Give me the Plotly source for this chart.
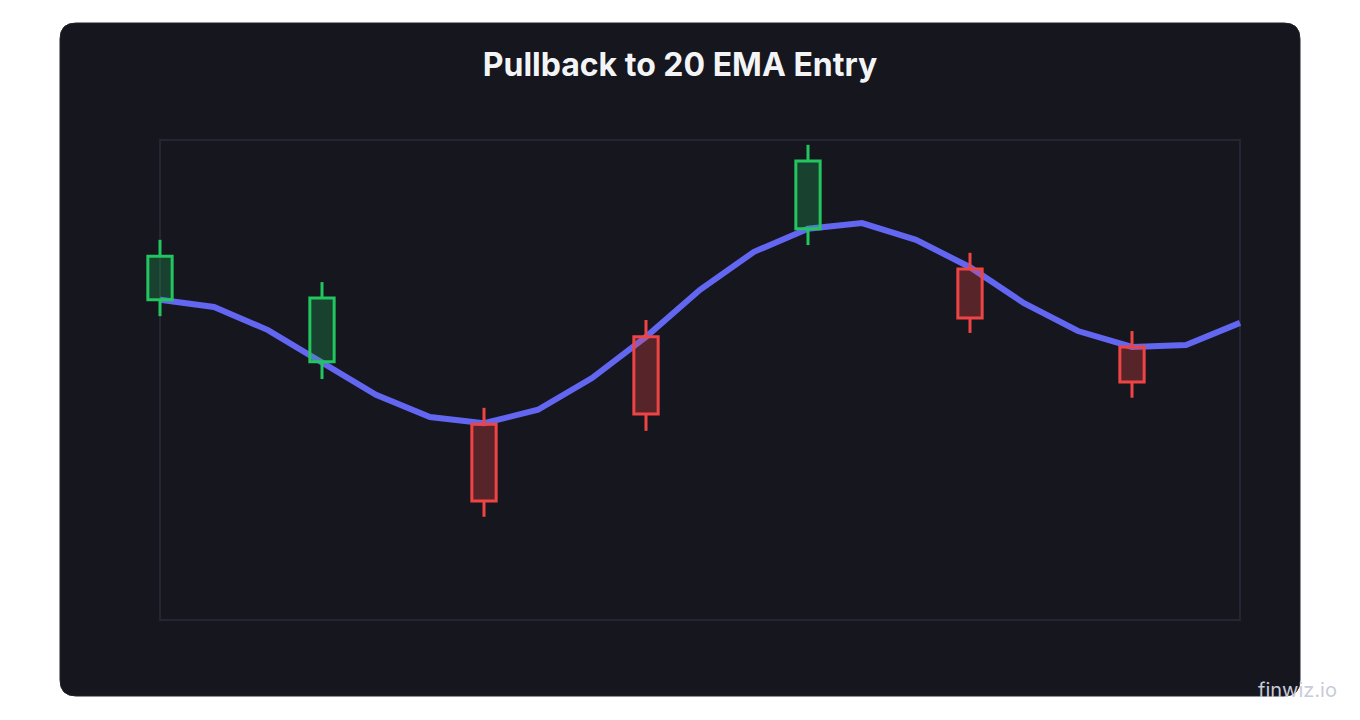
import plotly.graph_objects as go

# EMA(20) values, one per bar
bar_idx = list(range(21))
ema_vals = [66.7, 65.2, 60.4, 53.8, 46.9, 42.3, 41.0, 43.8, 50.4, 59.0, 68.8,
            76.7, 81.5, 82.7, 79.2, 73.5, 66.0, 60.2, 56.9, 57.3, 61.9]

# candles shown every third bar
candle_idx = [0, 3, 6, 9, 12, 15, 18]
opens = [66.7, 53.8, 40.8, 59.0, 81.5, 73.1, 56.9]
highs = [79.2, 70.4, 44.2, 62.5, 99.0, 76.5, 60.2]
lows = [63.3, 50.2, 21.5, 39.4, 78.1, 59.8, 46.3]
closes = [75.8, 67.1, 24.8, 42.9, 95.6, 62.9, 49.6]

GREEN = "#22c55e"
RED = "#ef4444"
CARD = "#16161f"
FRAME = "#252533"

fig = go.Figure()

# ema line on the base axes
fig.add_trace(go.Scatter(x=bar_idx, y=ema_vals, mode="lines",
                         line=dict(color="#6366f1", width=6),
                         hoverinfo="skip", showlegend=False))

# candles on an overlaid axis pair so they sit above the line
for up in [True, False]:
    xs, base, height, wx, wy = [], [], [], [], []
    for i, o, h, l, c in zip(candle_idx, opens, highs, lows, closes):
        if (c >= o) != up:
            continue
        top, bot = max(o, c), min(o, c)
        xs.append(i)
        base.append(bot)
        height.append(top - bot)
        wx += [i, i, None, i, i, None]
        wy += [h, top, None, bot, l, None]
    col = GREEN if up else RED
    fill = "rgba(34,197,94,0.25)" if up else "rgba(239,68,68,0.3)"
    fig.add_trace(go.Scatter(x=wx, y=wy, mode="lines", line=dict(color=col, width=3),
                             xaxis="x2", yaxis="y2", hoverinfo="skip", showlegend=False))
    fig.add_trace(go.Bar(x=xs, y=height, base=base, width=0.45,
                         marker=dict(color=fill, line=dict(color=col, width=3)),
                         xaxis="x2", yaxis="y2", showlegend=False))

# page body has an 8px margin, so the figure is 1352x712 placed at (8, 8)
OFF = 8
# x range padded by half a bar so the first candle isn't clipped; frame drawn at 0..20
XR = [-0.5, 20.5]
PL, PR, PT, PB = 133, 1267, 140, 620
W, H = float(PR - PL), float(PB - PT)
def px(x):
    return (x - PL) / W
def py(y):
    return (PB - y) / H

# rounded card behind the chart
x0, x1, y0, y1, r = 60, 1300, 23, 696, 16
path = (f"M {px(x0 + r)} {py(y0)} L {px(x1 - r)} {py(y0)} "
        f"Q {px(x1)} {py(y0)} {px(x1)} {py(y0 + r)} L {px(x1)} {py(y1 - r)} "
        f"Q {px(x1)} {py(y1)} {px(x1 - r)} {py(y1)} L {px(x0 + r)} {py(y1)} "
        f"Q {px(x0)} {py(y1)} {px(x0)} {py(y1 - r)} L {px(x0)} {py(y0 + r)} "
        f"Q {px(x0)} {py(y0)} {px(x0 + r)} {py(y0)} Z")
fig.add_shape(type="path", path=path, xref="paper", yref="paper",
              fillcolor=CARD, line=dict(color="#20202c", width=1), layer="below")
# plot frame
fig.add_shape(type="rect", xref="x", yref="paper", x0=bar_idx[0], x1=bar_idx[-1],
              y0=0, y1=1, line=dict(color=FRAME, width=2), layer="below")

axis_common = dict(showgrid=False, zeroline=False, showticklabels=False, ticks="",
                   showline=False)
fig.update_layout(
    width=1360 - OFF, height=720 - OFF,
    margin=dict(l=PL - OFF, r=(1360 - PR), t=PT - OFF, b=(720 - PB)),
    paper_bgcolor="white",
    plot_bgcolor="rgba(0,0,0,0)",
    title=dict(text="Pullback to 20 EMA Entry", x=px(680), xref="paper", xanchor="center",
               y=1 - (65 - OFF) / (720 - OFF), yanchor="middle", yref="container",
               font=dict(family="Inter", size=32, color="#f3f4f6", weight=700)),
    xaxis=dict(range=XR, **axis_common),
    yaxis=dict(range=[0, 100], **axis_common),
    xaxis2=dict(range=XR, overlaying="x", anchor="y2", visible=False),
    yaxis2=dict(range=[0, 100], overlaying="y", anchor="x2", visible=False),
    hovermode=False,
)

fig.add_annotation(text="finwiz.io", xref="paper", yref="paper",
                   x=px(1339), y=py(690), xanchor="right", yanchor="middle",
                   showarrow=False, font=dict(family="Inter", size=20, color="#c8ccd8"))

fig.write_html("out.html")
